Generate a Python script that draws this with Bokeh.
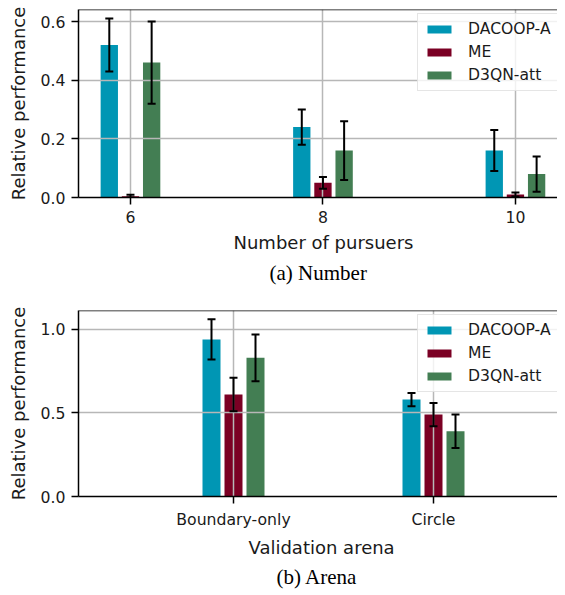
from bokeh.plotting import figure
from bokeh.models import (ColumnDataSource, Whisker, TeeHead, FixedTicker, Legend,
                          LegendItem, Span, Title, Range1d)
from bokeh.layouts import column
from bokeh.embed import file_html
from bokeh.resources import INLINE

# ---------------- data ----------------
series = ["DACOOP-A", "ME", "D3QN-att"]
colors = ["#0096b4", "#7b0024", "#437e53"]

num_cats = [6, 8, 10]
num_tick_labels = ["6", "8", "10"]
num_vals = {
    "DACOOP-A": [0.52, 0.24, 0.16],
    "ME": [0.004, 0.05, 0.01],
    "D3QN-att": [0.46, 0.16, 0.08],
}
num_err = {
    "DACOOP-A": [0.09, 0.06, 0.07],
    "ME": [0.005, 0.02, 0.007],
    "D3QN-att": [0.14, 0.10, 0.06],
}

arena_cats = [0, 1]
arena_tick_labels = ["Boundary-only", "Circle"]
arena_vals = {
    "DACOOP-A": [0.94, 0.58],
    "ME": [0.61, 0.49],
    "D3QN-att": [0.83, 0.39],
}
arena_err = {
    "DACOOP-A": [0.12, 0.04],
    "ME": [0.10, 0.07],
    "D3QN-att": [0.14, 0.10],
}

FONT = "DejaVu Sans"
TXT = "#1a1a1a"


def make_panel(cats, tick_labels, vals, errs, offset, width, xr, yr, yticks,
               xlabel, xlabel_off, caption, caption_off, frame_h, top_border,
               leg_loc, xl_standoff, cap_standoff):
    p = figure(width=557, frame_height=frame_h, output_backend="svg",
               toolbar_location=None, x_range=Range1d(*xr), y_range=Range1d(*yr),
               min_border_left=78, min_border_right=0, min_border_top=top_border,
               min_border_bottom=0)
    p.outline_line_color = None
    p.background_fill_color = "white"

    items = []
    for i, s in enumerate(series):
        off = (i - 1) * offset
        xs = [c + off for c in cats]
        v = vals[s]
        e = errs[s]
        src = ColumnDataSource(dict(x=xs, top=v,
                                    upper=[a + b for a, b in zip(v, e)],
                                    lower=[max(a - b, 0) for a, b in zip(v, e)]))
        r = p.vbar(x="x", top="top", bottom=0, width=width, source=src,
                   fill_color=colors[i], line_color=None, level="underlay")
        items.append(LegendItem(label=s, renderers=[r]))
        w = Whisker(source=src, base="x", upper="upper", lower="lower",
                    dimension="height", line_color="black", line_width=2,
                    upper_head=TeeHead(size=8, line_width=2, line_color="black"),
                    lower_head=TeeHead(size=8, line_width=2, line_color="black"))
        w.level = "overlay"
        p.add_layout(w)

    for g in (p.xgrid, p.ygrid):
        g.grid_line_color = "#b7b7b7"
        g.grid_line_width = 1.5
        g.level = "glyph"

    p.xaxis.ticker = FixedTicker(ticks=cats)
    p.xaxis.major_label_overrides = {c: t for c, t in zip(cats, tick_labels)}
    p.yaxis.ticker = FixedTicker(ticks=yticks)
    p.yaxis.major_label_overrides = {t: f"{t:.1f}" for t in yticks}

    for ax in (p.xaxis[0], p.yaxis[0]):
        ax.axis_line_color = "black"
        ax.axis_line_width = 1.5
        ax.major_tick_line_color = "black"
        ax.major_tick_line_width = 1.5
        ax.major_tick_out = 7
        ax.major_tick_in = 0
        ax.minor_tick_line_color = None
        ax.major_label_text_font = FONT
        ax.major_label_text_font_size = "15.7px"
        ax.major_label_text_color = TXT
        ax.major_label_standoff = 6
    p.yaxis.axis_label = "Relative performance"
    p.yaxis.axis_label_text_font = FONT
    p.yaxis.axis_label_text_font_size = "18px"
    p.yaxis.axis_label_text_font_style = "normal"
    p.yaxis.axis_label_text_color = TXT
    p.yaxis.axis_label_standoff = 9

    p.add_layout(Span(location=yr[1], dimension="width", line_color="black",
                      line_width=1.5))

    leg = Legend(items=items, location=leg_loc, margin=0, padding=6,
                 spacing=5, glyph_width=30, glyph_height=10, label_standoff=14,
                 label_text_font=FONT, label_text_font_size="15.6px",
                 label_text_color=TXT, border_line_color="#cccccc",
                 border_line_width=1.5, background_fill_alpha=0.8)
    leg.level = "overlay"
    p.add_layout(leg)

    p.add_layout(Title(text=xlabel, align="left", offset=xlabel_off,
                       text_font=FONT, text_font_size="18px",
                       text_font_style="normal", text_color=TXT,
                       standoff=xl_standoff), "below")
    p.add_layout(Title(text=caption, align="left", offset=caption_off,
                       text_font="Liberation Serif", text_font_size="21px",
                       text_font_style="normal", text_color="black",
                       standoff=cap_standoff), "below")
    return p


p1 = make_panel(num_cats, num_tick_labels, num_vals, num_err, 0.22, 0.18,
                (5.46, 10.437), (0, 0.641), [0.0, 0.2, 0.4, 0.6],
                "Number of pursuers", 155, "(a) Number", 191, 188, 9,
                (339, 106), 8, 4)
p2 = make_panel(arena_cats, arena_tick_labels, arena_vals, arena_err, 0.11, 0.09,
                (-0.775, 1.62), (0, 1.113), [0.0, 0.5, 1.0],
                "Validation arena", 170, "(b) Arena", 198, 186, 24,
                (339, 104), 7, 3)

layout = column(p1, p2, spacing=0)
open("out.html", "w").write(file_html(layout, INLINE))
